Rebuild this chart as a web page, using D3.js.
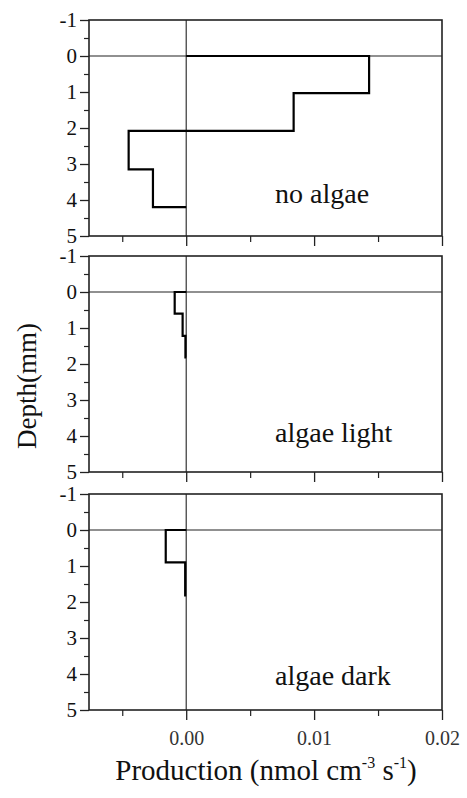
<!DOCTYPE html>
<html>
<head>
<meta charset="utf-8">
<script src="https://cdn.jsdelivr.net/npm/d3@7"></script>
<style>
  body { margin: 0; background: #fff; }
</style>
</head>
<body>
<svg id="chart" width="467" height="798"></svg>
<script>
// panel labels
var panelNames = ["no algae", "algae light", "algae dark"];

// depth boundaries (mm) of each layer, one list per panel
var layerDepths = [
  [0, 1.03, 2.08, 3.15, 4.2],
  [0, 0.6, 1.22, 1.82],
  [0, 0.9, 1.82]
];

// production in each layer (nmol cm-3 s-1)
var layerValues = [
  [0.0143, 0.0084, -0.0045, -0.0026],
  [-0.0009, -0.00028, -0.00006],
  [-0.0016, -0.00008]
];

var depthTicks = [-1, 0, 1, 2, 3, 4, 5];
var depthMinor = [-0.5, 0.5, 1.5, 2.5, 3.5, 4.5];
var prodTicks = [0, 0.01, 0.02];
var prodMinor = [-0.005, 0.005, 0.015];

var serif = "'Liberation Serif', 'Times New Roman', serif";

// layout
var left = 89, right = 442;
var panelTops = [20, 256, 494];
var panelHeight = 216;
var labelDrop = [33, 30, 25];

var svg = d3.select("#chart");

var x = d3.scaleLinear().domain([-0.0076, 0.02]).range([left, right]);

var line = d3.line()
  .x(d => x(d[0]))
  .y(d => d[1]);

panelNames.forEach(function (name, i) {
  var top = panelTops[i];
  var y = d3.scaleLinear().domain([-1, 5]).range([top, top + panelHeight]);
  var g = svg.append("g");

  // left axis, major + minor ticks
  g.append("g")
    .attr("transform", "translate(" + left + ",0)")
    .call(d3.axisLeft(y).tickValues(depthTicks).tickSize(9).tickPadding(3).tickFormat(d => String(d)))
    .call(a => a.select(".domain").remove())
    .call(a => a.selectAll("line").attr("stroke", "#222").attr("stroke-width", 1.3))
    .call(a => a.selectAll("text").attr("font-size", 21).attr("fill", "#111").style("font-family", serif));
  g.append("g")
    .attr("transform", "translate(" + left + ",0)")
    .call(d3.axisLeft(y).tickValues(depthMinor).tickSize(5).tickFormat(""))
    .call(a => a.select(".domain").remove())
    .call(a => a.selectAll("line").attr("stroke", "#222").attr("stroke-width", 1.2));

  // bottom axis
  var bottom = top + panelHeight;
  g.append("g")
    .attr("transform", "translate(0," + bottom + ")")
    .call(d3.axisBottom(x).tickValues(prodTicks).tickSize(10).tickPadding(11)
      .tickFormat(i === 2 ? d3.format(".2f") : ""))
    .call(a => a.select(".domain").remove())
    .call(a => a.selectAll("line").attr("stroke", "#222").attr("stroke-width", 1.3))
    .call(a => a.selectAll("text").attr("font-size", 20).attr("fill", "#333").style("font-family", serif));
  g.append("g")
    .attr("transform", "translate(0," + bottom + ")")
    .call(d3.axisBottom(x).tickValues(prodMinor).tickSize(6).tickFormat(""))
    .call(a => a.select(".domain").remove())
    .call(a => a.selectAll("line").attr("stroke", "#222").attr("stroke-width", 1.2));

  // frame
  g.append("rect")
    .attr("x", left).attr("y", top)
    .attr("width", right - left).attr("height", panelHeight)
    .attr("fill", "none").attr("stroke", "#222").attr("stroke-width", 1.6);

  // zero lines
  g.append("line")
    .attr("x1", left).attr("x2", right)
    .attr("y1", y(0)).attr("y2", y(0))
    .attr("stroke", "#222").attr("stroke-width", 1.1);
  g.append("line")
    .attr("x1", x(0)).attr("x2", x(0))
    .attr("y1", top).attr("y2", bottom)
    .attr("stroke", "#222").attr("stroke-width", 1.1);

  // step profile
  var depths = layerDepths[i], vals = layerValues[i];
  var pts = [[0, y(depths[0])]];
  vals.forEach(function (v, k) {
    pts.push([v, y(depths[k])]);
    pts.push([v, y(depths[k + 1])]);
  });
  pts.push([0, y(depths[depths.length - 1])]);
  g.append("path")
    .attr("d", line(pts))
    .attr("fill", "none")
    .attr("stroke", "#000")
    .attr("stroke-width", 2.2);

  // panel label
  g.append("text")
    .attr("x", 275)
    .attr("y", bottom - labelDrop[i])
    .attr("font-size", 28)
    .attr("fill", "#111")
    .style("font-family", serif)
    .text(name);
});

// y title
svg.append("text")
  .attr("transform", "translate(36,386) rotate(-90)")
  .attr("text-anchor", "middle")
  .attr("font-size", 27)
  .attr("fill", "#111")
  .style("font-family", serif)
  .text("Depth(mm)");

// x title
var xt = svg.append("text")
  .attr("x", 266)
  .attr("y", 780)
  .attr("text-anchor", "middle")
  .attr("font-size", 29)
  .attr("fill", "#111")
  .style("font-family", serif);
xt.append("tspan").text("Production (nmol cm");
xt.append("tspan").attr("dy", -12).attr("font-size", 16).text("-3");
xt.append("tspan").attr("dy", 12).text(" s");
xt.append("tspan").attr("dy", -12).attr("font-size", 16).text("-1");
xt.append("tspan").attr("dy", 12).text(")");
</script>
</body>
</html>
